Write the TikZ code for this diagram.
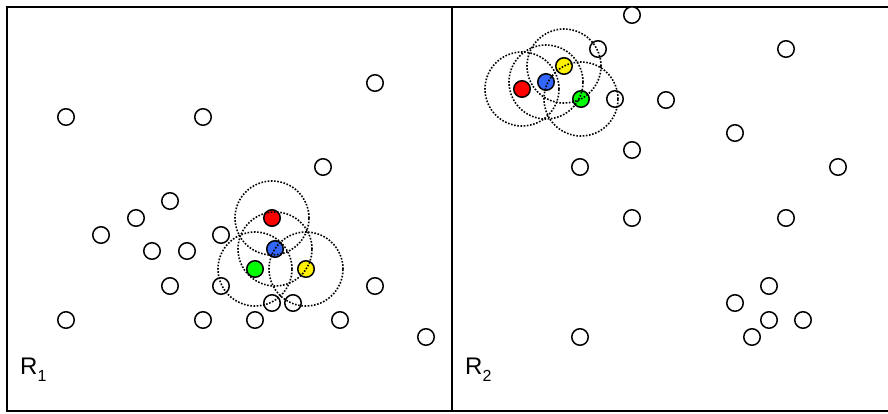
\documentclass[tikz,border=0pt]{standalone}
\usepackage{fontspec}
\setmainfont{Liberation Sans}
\definecolor{ptblue}{RGB}{51,102,255}
\newcommand{\lblsub}[1]{\raisebox{-0.32em}{\fontsize{16}{18}\selectfont #1}}
\begin{document}
\begin{tikzpicture}[x=1pt,y=-1pt,
  pt/.style={circle,draw=black,line width=1.5pt,fill=white,minimum size=16.5pt,inner sep=0pt},
  cpt/.style={pt,fill=#1},
  ring/.style={circle,draw=black,line width=1.6pt,dash pattern=on 1.6pt off 1.6pt,minimum size=74pt,inner sep=0pt},
  frame/.style={line width=1.6pt,black},
  lbl/.style={font=\fontsize{24}{26}\selectfont,inner sep=0pt,anchor=base west}]
\useasboundingbox (0,0) rectangle (888,413);
% frame
\coordinate (tl) at (7,7);
\coordinate (tr) at (890,7);
\coordinate (bl) at (7,411);
\coordinate (br) at (890,411);
\coordinate (mt) at (452,7);
\coordinate (mb) at (452,411);
\draw[frame] (tr) -- (tl) -- (bl) -- (br);
\draw[frame] (mt) -- (mb);
% R1 white points
\foreach \x/\y [count=\i] in {375/83,66/117,203/117,323/167,170/201,136/218,101/235,221/235,152/251,187/251,170/286,221/286,375/286,66/320,203/320,255/320,340/320,426/337,272/303,293/303}
  \node[pt] (a\i) at (\x,\y) {};
% R2 white points
\foreach \x/\y [count=\i] in {632/15,598/49,786/49,666/100,615/99,735/133,632/150,580/167,838/167,632/218,786/218,769/286,735/303,769/320,803/320,752/337,580/337}
  \node[pt] (b\i) at (\x,\y) {};
% R1 coloured points
\node[cpt=red] (r1) at (272,218) {};
\node[cpt=ptblue] (u1) at (275,249) {};
\node[cpt=green] (g1) at (255,269) {};
\node[cpt=yellow] (y1) at (306,269) {};
% R2 coloured points
\node[cpt=red] (r2) at (522,89) {};
\node[cpt=ptblue] (u2) at (546,82) {};
\node[cpt=yellow] (y2) at (564,66) {};
\node[cpt=green] (g2) at (581,99) {};
% dotted rings
\foreach \n in {r1,u1,g1,y1,r2,u2,y2,g2}
  \node[ring] (ring\n) at (\n.center) {};
% labels
\node[lbl] (l1) at (20,374) {R\lblsub{1}};
\node[lbl] (l2) at (465,374) {R\lblsub{2}};
\end{tikzpicture}
\end{document}
